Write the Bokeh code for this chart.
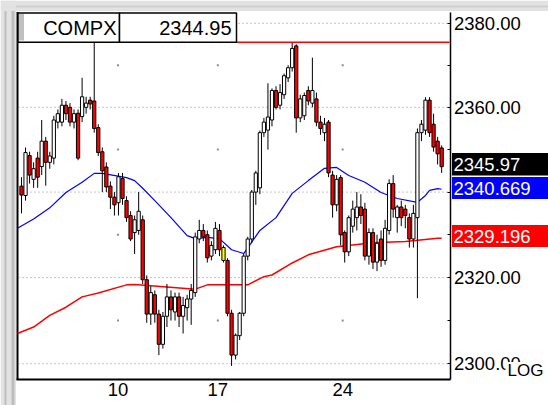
import math
from bokeh.plotting import figure
from bokeh.models import Range1d, FixedTicker, PrintfTickFormatter, ColumnDataSource
from bokeh.core.properties import value
from bokeh.embed import file_html
from bokeh.resources import INLINE

# ---------------- data ----------------
symbol = "COMPX"
cursor_value = "2344.95"
last_close_label = "2345.97"
ma_fast_label = "2340.669"
ma_slow_label = "2329.196"
scale_label = "LOG"
highest_high = 2375.5

opens = [2341.4, 2339.2, 2348.6, 2343.0, 2348.0, 2346.0, 2352.0, 2347.0, 2348.0, 2356.5,
         2356.5, 2360.5, 2360.0, 2356.5, 2358.6, 2357.8, 2360.0, 2361.7, 2361.5, 2355.2,
         2349.5, 2345.9, 2341.4, 2338.8, 2337.5, 2343.2, 2338.0, 2334.5, 2330.5, 2331.0,
         2333.5, 2319.5, 2311.5, 2316.0, 2311.5, 2304.5, 2311.0, 2315.5, 2312.0, 2315.5,
         2311.0, 2313.0, 2315.0, 2316.5, 2329.0, 2331.0, 2330.0, 2325.0, 2326.5, 2331.0,
         2327.0, 2324.0, 2311.7, 2302.0, 2306.5, 2311.7, 2325.0, 2329.0, 2340.0, 2341.0,
         2354.0, 2354.6, 2357.0, 2364.0, 2360.5, 2363.0, 2367.0, 2369.4, 2374.6, 2357.5,
         2358.0, 2364.0, 2361.0, 2362.0, 2356.5, 2354.0, 2356.5, 2344.0, 2337.0, 2343.4,
         2330.5, 2326.0, 2332.0, 2334.0, 2336.5, 2336.0, 2325.0, 2330.5, 2323.6, 2329.0,
         2324.0, 2331.0, 2342.0, 2334.0, 2336.5, 2336.0, 2334.0, 2329.0, 2334.0, 2354.0,
         2354.6, 2361.7, 2356.0, 2352.0, 2350.4]
highs = [2343.5, 2350.5, 2349.5, 2347.0, 2349.5, 2357.0, 2353.0, 2349.5, 2358.0, 2359.5,
         2362.0, 2361.5, 2361.0, 2359.5, 2359.5, 2367.0, 2362.5, 2362.5, 2375.5, 2356.0,
         2350.5, 2347.0, 2342.5, 2340.0, 2344.5, 2344.5, 2339.0, 2335.5, 2334.5, 2340.0,
         2334.5, 2320.5, 2318.0, 2317.0, 2312.5, 2312.0, 2318.5, 2317.0, 2316.5, 2316.5,
         2315.5, 2316.0, 2318.5, 2330.5, 2333.5, 2332.5, 2331.0, 2328.5, 2333.0, 2332.5,
         2327.5, 2324.5, 2312.5, 2307.0, 2312.0, 2325.5, 2329.5, 2340.5, 2345.0, 2354.5,
         2357.5, 2365.7, 2364.5, 2365.0, 2365.5, 2368.0, 2370.0, 2375.5, 2375.0, 2363.0,
         2363.5, 2365.0, 2371.8, 2363.5, 2358.0, 2357.5, 2357.0, 2345.0, 2344.0, 2344.0,
         2331.0, 2334.5, 2338.0, 2340.0, 2339.5, 2337.5, 2331.5, 2331.5, 2330.0, 2331.0,
         2333.5, 2343.0, 2344.0, 2337.0, 2338.0, 2337.0, 2335.0, 2337.0, 2355.0, 2357.0,
         2362.4, 2362.4, 2358.5, 2353.0, 2351.0]
lows = [2335.0, 2338.0, 2342.0, 2341.0, 2341.0, 2344.0, 2341.5, 2345.5, 2346.5, 2355.0,
        2355.5, 2357.0, 2355.5, 2355.0, 2347.5, 2356.5, 2358.5, 2359.5, 2354.0, 2348.5,
        2340.0, 2340.0, 2336.0, 2334.5, 2334.5, 2337.0, 2333.0, 2328.5, 2325.5, 2330.0,
        2318.5, 2309.5, 2309.0, 2309.5, 2302.0, 2303.5, 2308.5, 2310.0, 2310.0, 2308.5,
        2307.0, 2310.0, 2309.0, 2315.5, 2328.0, 2328.5, 2323.5, 2324.0, 2325.5, 2325.0,
        2323.5, 2311.0, 2299.5, 2301.0, 2305.5, 2311.0, 2324.0, 2328.0, 2337.0, 2339.5,
        2353.0, 2350.0, 2355.5, 2359.5, 2359.5, 2362.0, 2366.0, 2368.5, 2354.0, 2356.5,
        2357.0, 2360.5, 2360.0, 2355.5, 2353.5, 2352.0, 2343.5, 2334.0, 2335.5, 2327.5,
        2323.5, 2325.0, 2330.5, 2331.0, 2332.5, 2324.0, 2323.0, 2322.0, 2321.5, 2322.5,
        2323.0, 2330.0, 2334.0, 2330.5, 2332.0, 2331.5, 2327.0, 2327.0, 2315.2, 2352.0,
        2353.5, 2353.0, 2349.5, 2346.5, 2344.5]
closes = [2339.3, 2349.3, 2344.0, 2345.5, 2343.5, 2352.0, 2347.0, 2348.5, 2357.0, 2358.5,
          2360.5, 2358.5, 2356.5, 2358.5, 2348.0, 2362.5, 2361.0, 2360.8, 2355.0, 2349.3,
          2345.0, 2341.2, 2338.8, 2337.0, 2343.6, 2338.5, 2334.0, 2329.0, 2333.5, 2335.5,
          2319.5, 2311.5, 2316.5, 2311.5, 2304.5, 2311.0, 2315.5, 2312.5, 2315.5, 2311.0,
          2313.5, 2315.0, 2317.0, 2329.5, 2331.0, 2329.5, 2324.6, 2327.5, 2331.5, 2326.5,
          2324.0, 2311.7, 2302.0, 2306.6, 2311.7, 2325.0, 2329.0, 2340.0, 2344.5, 2354.0,
          2356.5, 2357.7, 2364.0, 2360.0, 2363.5, 2367.5, 2369.4, 2374.0, 2357.5, 2362.0,
          2362.8, 2361.5, 2364.0, 2356.5, 2355.0, 2356.0, 2344.5, 2337.0, 2343.0, 2330.0,
          2326.0, 2334.0, 2336.0, 2336.5, 2334.5, 2325.0, 2330.5, 2323.6, 2328.0, 2324.0,
          2331.5, 2342.0, 2336.0, 2336.5, 2334.0, 2334.5, 2329.0, 2335.0, 2354.0, 2356.0,
          2361.7, 2354.0, 2350.6, 2349.0, 2345.97]
highlight_bars = [50]          # the yellow bar

ma_fast_x = [-1, 3, 7, 11, 15, 18, 20, 26, 28, 30, 33, 37, 41, 43, 46, 49, 52, 55, 59, 63,
             67, 71, 75, 78, 81, 85, 89, 93, 98, 100, 101, 103, 104]
ma_fast_v = [2331.5, 2333.7, 2336.3, 2339.9, 2342.3, 2344.4, 2344.4, 2343.4, 2342.7, 2340.9,
             2338.0, 2334.0, 2329.8, 2329.1, 2329.4, 2329.1, 2326.5, 2325.6, 2331.0, 2334.0,
             2339.7, 2342.7, 2345.6, 2345.8, 2343.9, 2342.3, 2339.9, 2338.5, 2337.6, 2339.2,
             2340.4, 2340.8, 2340.669]
ma_slow_x = [-1, 3, 7, 11, 15, 19, 26, 28, 36, 43, 46, 52, 56, 60, 62, 67, 71, 78, 87, 95,
             103, 104]
ma_slow_v = [2307.0, 2308.5, 2311.2, 2313.1, 2315.5, 2316.4, 2318.3, 2318.4, 2317.8, 2317.3,
             2318.3, 2318.3, 2318.3, 2320.2, 2320.6, 2323.4, 2325.3, 2327.2, 2328.1, 2328.4,
             2329.2, 2329.196]

x_tick_pos = [23.9, 48.6, 79.5]
x_tick_labels = ["10", "17", "24"]
y_ticks = [2300, 2320, 2340, 2360, 2380]
y_minor = [2310, 2330, 2350, 2370]

# ---------------- layout helpers (pixel -> data) ----------------
SP = 4.04
W, H = 548, 405


def px_x(px):
    return (px - 21) / SP


def px_y(py):
    return 2380 * math.exp(-(py - 22.8) / 9958)


FONT = "Liberation Sans"

p = figure(width=W, height=H, output_backend="svg", toolbar_location=None,
           x_range=Range1d(px_x(0), px_x(W)), y_range=Range1d(px_y(H), px_y(0)),
           y_axis_type="log", y_axis_location="right",
           min_border_left=0, min_border_right=0, min_border_top=0, min_border_bottom=0,
           background_fill_color="white", border_fill_color="white", outline_line_color=None)
p.xgrid.grid_line_color = None
p.ygrid.grid_line_color = None

# window chrome (grey strips at the left and top)
p.quad(left=[px_x(0), px_x(0)], right=[px_x(15.5), px_x(W)],
       bottom=[px_y(H), px_y(10.5)], top=[px_y(0), px_y(0)],
       fill_color="#e2e2e2", line_color=None)
p.quad(left=[px_x(4), px_x(11)], right=[px_x(6), px_x(14)],
       bottom=[px_y(H), px_y(H)], top=[px_y(10.5), px_y(10.5)],
       fill_color="#bdbdbd", line_color=None)
p.quad(left=[px_x(15.5)], right=[px_x(W)], bottom=[px_y(7)], top=[px_y(5)],
       fill_color="#cfcfcf", line_color=None)

# right price axis, pinned at the right edge of the chart area
yax = p.yaxis[0]
yax.fixed_location = px_x(449.5)
yax.bounds = (px_y(378.5), px_y(11.5))
yax.ticker = FixedTicker(ticks=y_ticks, minor_ticks=y_minor)
yax.formatter = PrintfTickFormatter(format="%.2f")
yax.major_label_overrides = {2340: ""}
yax.major_tick_in = 3
yax.major_tick_out = 0
yax.minor_tick_in = 3
yax.minor_tick_out = 0
yax.major_label_standoff = 4
yax.axis_line_width = 1.5
yax.axis_line_color = "black"
yax.major_tick_line_color = "black"
yax.minor_tick_line_color = "black"
yax.major_label_text_font = FONT
yax.major_label_text_font_size = "18.5px"
yax.major_label_text_color = "black"

# bottom date axis, pinned at the bottom of the chart area
xax = p.xaxis[0]
xax.fixed_location = px_y(378.5)
xax.bounds = (px_x(16), px_x(450))
xax.ticker = FixedTicker(ticks=x_tick_pos)
xax.major_label_overrides = {pos: lab for pos, lab in zip(x_tick_pos, x_tick_labels)}
xax.major_tick_line_color = None
xax.minor_tick_line_color = None
xax.major_tick_out = 0
xax.major_tick_in = 0
xax.minor_tick_out = 0
xax.major_label_standoff = 4
xax.axis_line_width = 2
xax.axis_line_color = "black"
xax.major_label_text_font = FONT
xax.major_label_text_font_size = "18.5px"
xax.major_label_text_color = "black"

# left frame line
p.segment(x0=[px_x(17)], x1=[px_x(17)], y0=[px_y(379.5)], y1=[px_y(11.5)],
          line_color="black", line_width=2)

# dotted grid
p.segment(x0=[px_x(18)] * len(y_ticks), x1=[px_x(448)] * len(y_ticks),
          y0=y_ticks, y1=y_ticks, line_color="#8c8c8c", line_dash="1 3", line_width=1)
dot_x = [t for t in x_tick_pos for _ in y_minor]
dot_y = [lv for _ in x_tick_pos for lv in y_minor]
p.scatter(dot_x, dot_y, marker="square", size=2, color="#8c8c8c", line_color=None)

# moving averages
p.line(ma_slow_x, ma_slow_v, line_color="#ff0000", line_width=1.5)
p.line(ma_fast_x, ma_fast_v, line_color="#0000ff", line_width=1.2)

# candles
idx = list(range(len(opens)))
colors = []
for i, (o, c) in enumerate(zip(opens, closes)):
    if i in highlight_bars:
        colors.append("#ffff00")
    elif c >= o:
        colors.append("white")
    else:
        colors.append("#ff0000")
src = ColumnDataSource(dict(x=idx, h=highs, l=lows,
                            top=[max(o, c) for o, c in zip(opens, closes)],
                            bottom=[min(o, c) for o, c in zip(opens, closes)],
                            color=colors))
p.segment(x0="x", y0="l", x1="x", y1="h", source=src, line_color="black", line_width=1)
p.vbar(x="x", width=0.8, top="top", bottom="bottom", fill_color="color",
       line_color="black", line_width=1, source=src)

# highest-high line
p.segment(x0=[px_x(17)], x1=[px_x(449)], y0=[highest_high], y1=[highest_high],
          line_color="#ff0000", line_width=1.5)

# info box top-left
bx0, bx1, bx2 = px_x(17.5), px_x(119), px_x(236)
btop = px_y(12.5)
p.quad(left=[bx0, bx1], right=[bx1, bx2], bottom=[highest_high, highest_high], top=[btop, btop],
       fill_color="white", line_color="black", line_width=1.5)
p.quad(left=[px_x(18.5)], right=[px_x(23.5)], bottom=[px_y(40)], top=[px_y(13.5)],
       fill_color="#c0c0c0", line_color=None)
p.text(x=[px_x(116), px_x(231)], y=[px_y(27), px_y(27)], text=[symbol, cursor_value],
       text_align="right", text_baseline="middle", text_font=value(FONT),
       text_font_size="20px", text_color="black")

# right-side value boxes (drawn above the axis)
box_top_px = [152.5, 176.5, 224.5]
box_bot_px = [175.0, 198.5, 246.5]
box_colors = ["black", "#0000ff", "#ff0000"]
box_texts = [last_close_label, ma_fast_label, ma_slow_label]
p.quad(left=[px_x(451.5)] * 3, right=[px_x(W)] * 3,
       bottom=[px_y(b) for b in box_bot_px], top=[px_y(t) for t in box_top_px],
       fill_color=box_colors, line_color=None, level="overlay")
p.text(x=[px_x(453)] * 3, y=[px_y((t + b) / 2 + 0.5) for t, b in zip(box_top_px, box_bot_px)],
       text=box_texts, text_align="left", text_baseline="middle", text_font=value(FONT),
       text_font_size="18.5px", text_color="white", level="overlay")

# LOG marker over the bottom price label
p.quad(left=[px_x(505)], right=[px_x(W)], bottom=[px_y(377)], top=[px_y(361.5)],
       fill_color="white", line_color=None, level="overlay")
p.text(x=[px_x(507)], y=[px_y(369.5)], text=[scale_label], text_align="left",
       text_baseline="middle", text_font=value(FONT), text_font_size="17px",
       text_color="black", level="overlay")

open("out.html", "w").write(file_html(p, INLINE))
